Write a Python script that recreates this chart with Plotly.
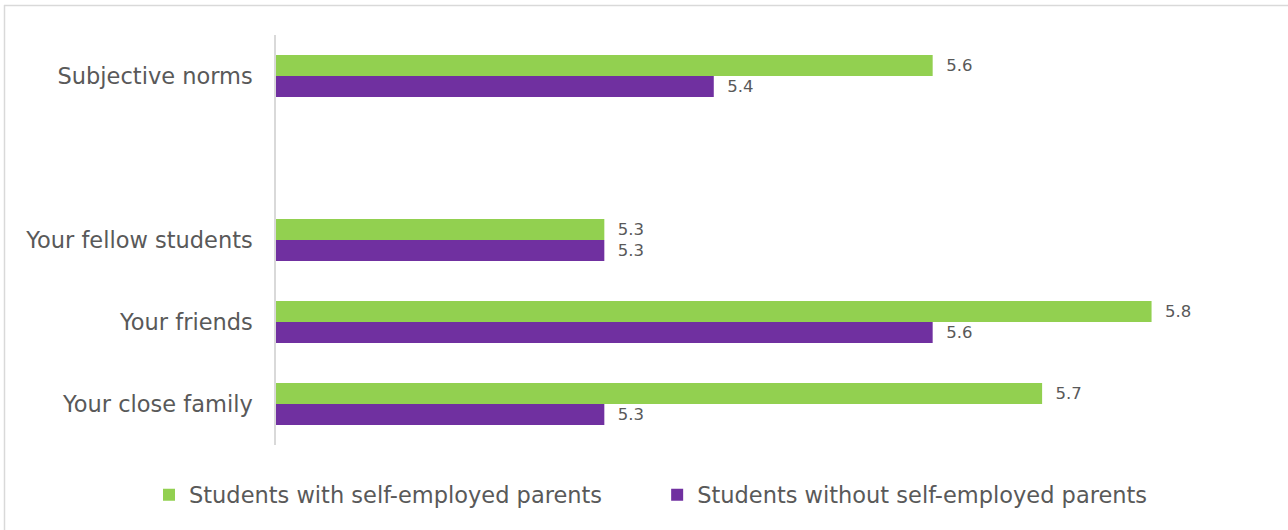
import plotly.graph_objects as go

# Categories listed bottom-to-top (plotly draws the first category at the bottom);
# the blank entry leaves the gap between the summary row and the items.
categories = ["Your close family", "Your friends", "Your fellow students", " ", "Subjective norms"]
with_self_employed = [5.7, 5.8, 5.3, None, 5.6]
without_self_employed = [5.3, 5.6, 5.3, None, 5.4]
series_names = ["Students with self-employed parents", "Students without self-employed parents"]

GREEN = "#92D050"
PURPLE = "#7030A0"
TEXT = "#595959"
BORDER = "#D9D9D9"
FONT = "DejaVu Sans"

W, H = 1288, 530
ML, MR, MT, MB = 276, 27, 35, 85
PW, PH = W - ML - MR, H - MT - MB
LEGEND_PAD = "\u00a0" * 7  # widens the space between the two legend entries


def px_x(x):
    return (x - ML) / PW


def px_y(y):
    return (H - MB - y) / PH


def labels(vals):
    return ["  " + f"{v:.1f}" if v is not None else "" for v in vals]


fig = go.Figure()
# purple first so it sits below the green bar within each group
fig.add_trace(go.Bar(
    y=categories, x=without_self_employed, orientation="h", name=series_names[1],
    marker=dict(color=PURPLE, line=dict(width=0)),
    text=labels(without_self_employed), textposition="outside",
    textfont=dict(family=FONT, size=16.5, color=TEXT), cliponaxis=False,
    hoverinfo="x+y",
))
fig.add_trace(go.Bar(
    y=categories, x=with_self_employed, orientation="h", name=series_names[0] + LEGEND_PAD,
    marker=dict(color=GREEN, line=dict(width=0)),
    text=labels(with_self_employed), textposition="outside",
    textfont=dict(family=FONT, size=16.5, color=TEXT), cliponaxis=False,
    hoverinfo="x+y",
))

fig.update_layout(
    width=W, height=H,
    margin=dict(l=ML, r=MR, t=MT, b=MB),
    paper_bgcolor="white", plot_bgcolor="white",
    barmode="group", bargap=0.488, bargroupgap=0,
    font=dict(family=FONT, color=TEXT),
    showlegend=True,
    legend=dict(
        orientation="h", traceorder="reversed",
        xref="paper", yref="paper",
        x=px_x(149), xanchor="left", y=px_y(495), yanchor="middle",
        font=dict(family=FONT, size=22.5, color=TEXT),
        itemwidth=30,
    ),
    xaxis=dict(range=[5.0, 5.9], visible=False, showgrid=False, zeroline=False),
    yaxis=dict(
        type="category", categoryorder="array", categoryarray=categories,
        showline=True, linecolor=BORDER, linewidth=1.5,
        showgrid=False, ticks="", ticklabelstandoff=17,
        tickfont=dict(family=FONT, size=22.5, color=TEXT),
    ),
    shapes=[
        dict(type="line", xref="paper", yref="paper",
             x0=px_x(4), x1=px_x(W), y0=px_y(5.5), y1=px_y(5.5),
             line=dict(color=BORDER, width=1.5)),
        dict(type="line", xref="paper", yref="paper",
             x0=px_x(4.5), x1=px_x(4.5), y0=px_y(5), y1=px_y(H),
             line=dict(color=BORDER, width=1.5)),
    ],
)

fig.write_html("out.html")
